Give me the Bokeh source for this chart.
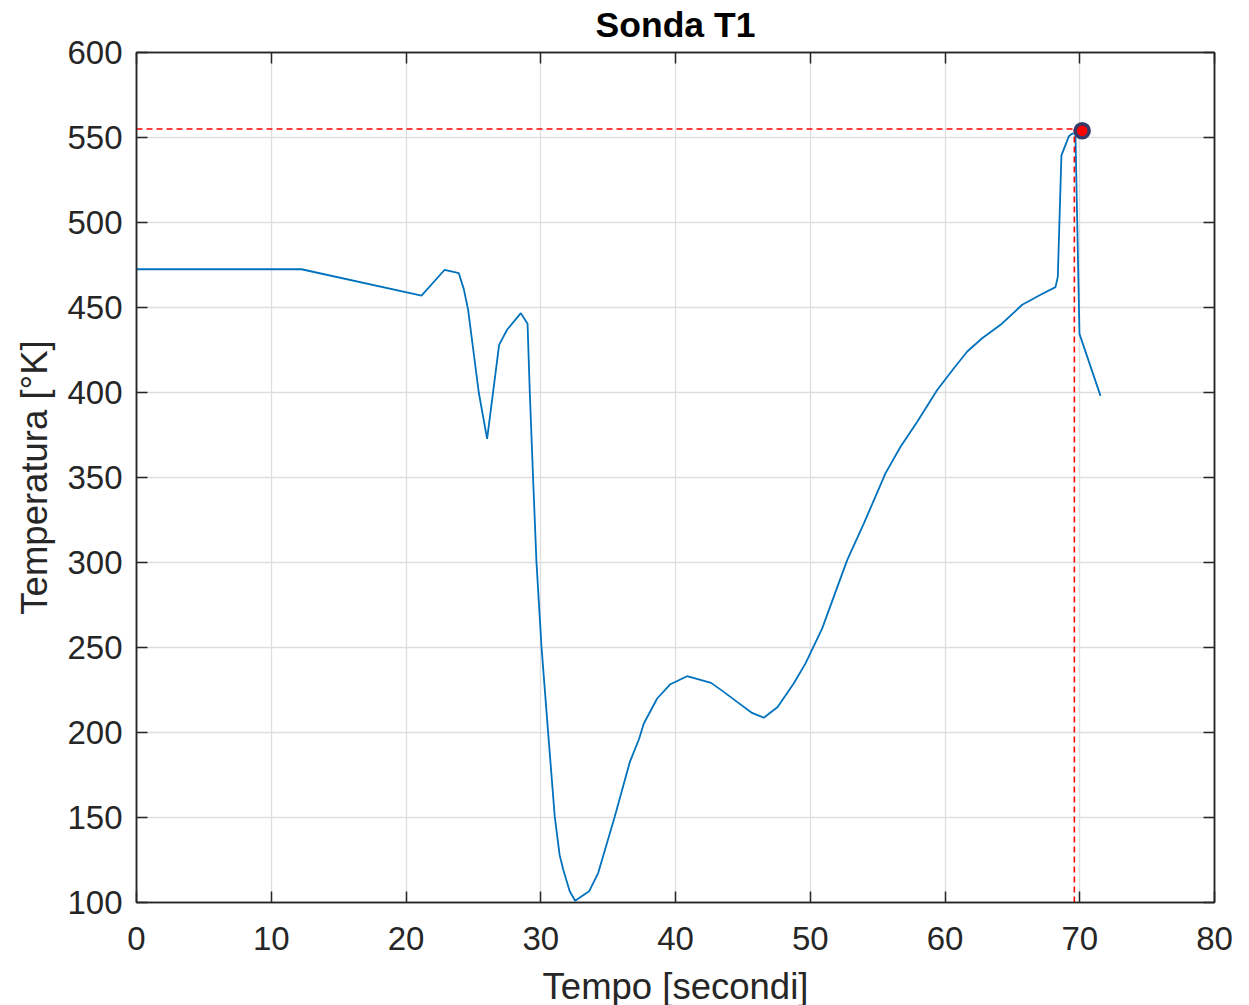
from bokeh.plotting import figure
from bokeh.models import LinearAxis, FixedTicker, Range1d
from bokeh.embed import file_html
from bokeh.resources import INLINE

# Data
tempo = [0, 12.24, 21.15, 22.87, 23.92, 24.29, 24.61, 25.4, 26.02, 26.91, 27.5,
         28.52, 29.02, 29.18, 29.43, 29.68, 30.05, 30.54, 31.04, 31.4, 31.66,
         32.15, 32.55, 33.59, 34.26, 35.49, 36.6, 37.28, 37.65, 38.64, 39.62,
         40.86, 42.64, 43.58, 44.57, 45.68, 46.55, 47.58, 48.77, 49.64, 50.88,
         52.74, 53.98, 55.58, 56.7, 57.94, 59.42, 60.66, 61.65, 62.76, 64.12,
         65.73, 67.09, 68.2, 68.37, 68.64, 69.19, 69.43, 69.68, 69.98, 71.54]
temperatura = [472.5, 472.5, 457, 472.2, 470.2, 460.8, 448.6, 400, 372.7, 428, 436.9,
               446.7, 440.4, 401.6, 350, 300.5, 251, 200.7, 150.5, 128, 119.6,
               106.6, 101, 106.6, 117.3, 150.5, 182.4, 195.9, 205.3, 220, 228.4,
               233.1, 229.2, 223.9, 218, 211.5, 208.7, 215, 228.8, 240.5, 261.1,
               301.4, 323, 352.4, 368.1, 382.8, 401.5, 414.3, 424.1, 431.9, 439.8,
               451.6, 457.5, 462, 468, 539.5, 550.7, 552.3, 552.3, 434.5, 398]

peak_t = [70.18]
peak_T = [554]
ref_t = 69.6
ref_T = 555

x_ticks = [0, 10, 20, 30, 40, 50, 60, 70, 80]
y_ticks = [100, 150, 200, 250, 300, 350, 400, 450, 500, 550, 600]
title_text = "Sonda T1"

FONT = "Liberation Sans"
AX = "#262626"

p = figure(frame_width=1078, frame_height=850,
           min_border_left=136, min_border_right=27,
           min_border_top=52, min_border_bottom=103,
           x_range=Range1d(0, 80), y_range=Range1d(100, 600),
           output_backend="svg", toolbar_location=None)

p.outline_line_color = AX
p.outline_line_width = 1.5
p.outline_line_alpha = 1

for ax in (p.xaxis[0], p.yaxis[0]):
    ax.major_label_text_font = FONT
    ax.major_label_text_font_size = "33px"
    ax.major_label_text_color = AX
    ax.axis_label_text_font = FONT
    ax.axis_label_text_font_size = "36.5px"
    ax.axis_label_text_font_style = "normal"
    ax.axis_label_text_color = AX
    ax.axis_line_color = AX
    ax.axis_line_width = 1.5
    ax.major_tick_line_color = AX
    ax.major_tick_line_width = 1.5
    ax.major_tick_in = 11
    ax.major_tick_out = 0
    ax.minor_tick_line_color = None

p.xaxis[0].ticker = FixedTicker(ticks=x_ticks)
p.yaxis[0].ticker = FixedTicker(ticks=y_ticks)
p.xaxis[0].axis_label = "Tempo [secondi]"
p.yaxis[0].axis_label = "Temperatura [°K]"
p.xaxis[0].major_label_standoff = 24
p.yaxis[0].major_label_standoff = 14
p.xaxis[0].axis_label_standoff = 13
p.yaxis[0].axis_label_standoff = 9

# box ticks on top and right (no tick labels); the top one carries the title
def box_axis(ticks):
    return LinearAxis(ticker=FixedTicker(ticks=ticks),
                      major_label_text_color=None, major_label_text_font_size="1px",
                      major_label_standoff=0, axis_line_color=AX, axis_line_width=1.5,
                      major_tick_line_color=AX, major_tick_line_width=1.5,
                      major_tick_in=11, major_tick_out=0, minor_tick_line_color=None)

top_axis = box_axis(x_ticks)
top_axis.axis_label = title_text
top_axis.axis_label_text_font = FONT
top_axis.axis_label_text_font_size = "35.5px"
top_axis.axis_label_text_font_style = "bold"
top_axis.axis_label_text_color = "black"
top_axis.axis_label_standoff = 8
p.add_layout(top_axis, "above")
p.add_layout(box_axis(y_ticks), "right")

p.xgrid.ticker = FixedTicker(ticks=x_ticks)
p.ygrid.ticker = FixedTicker(ticks=y_ticks)
for g in (p.xgrid[0], p.ygrid[0]):
    g.grid_line_color = "#dedede"
    g.grid_line_width = 1.3

p.line(tempo, temperatura, line_color="#0072BD", line_width=1.8)

p.line([0, ref_t], [ref_T, ref_T], line_color="red", line_width=1.6, line_dash="6 4")
p.line([ref_t, ref_t], [100, ref_T], line_color="red", line_width=1.6, line_dash="6 4")

p.scatter(peak_t, peak_T, size=14, fill_color="red", line_color="#363a66", line_width=3.5)

open("out.html", "w").write(file_html(p, INLINE))
